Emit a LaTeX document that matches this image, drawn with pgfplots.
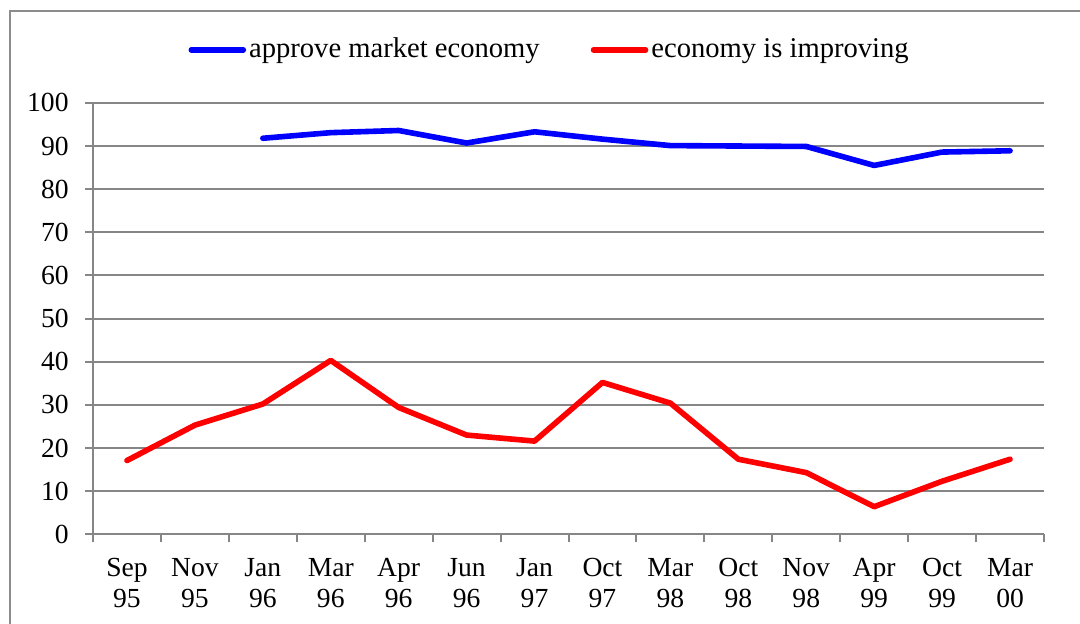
\documentclass[border=0pt]{standalone}
\usepackage{fontspec}
\setmainfont{Liberation Serif}
\usepackage{pgfplots}
\pgfplotsset{compat=1.18}
\definecolor{gridgray}{RGB}{134,134,134}
\definecolor{frameg}{RGB}{140,140,140}
\begin{document}
\fontsize{13.5}{15.5}\selectfont
\begin{tikzpicture}
\useasboundingbox (0,0) rectangle (540pt,312pt);
\clip (0,0) rectangle (540pt,312pt);
\draw[frameg, line width=1pt] (4.75pt,-10pt) -- (4.75pt,306.5pt) -- (550pt,306.5pt);
\begin{axis}[
  scale only axis,
  width=475.5pt, height=215.7pt,
  at={(46.5pt,44.85pt)}, anchor=south west,
  xmin=-0.5, xmax=13.5, ymin=0, ymax=100,
  axis x line*=bottom, axis y line*=left,
  axis line style={gridgray, line width=1pt, -},
  ytick={0,10,...,100},
  xtick={-0.5,0.5,...,13.5},
  x tick label as interval,
  xticklabels={{Sep\\95},{Nov\\95},{Jan\\96},{Mar\\96},{Apr\\96},{Jun\\96},{Jan\\97},{Oct\\97},{Mar\\98},{Oct\\98},{Nov\\98},{Apr\\99},{Oct\\99},{Mar\\00}},
  xticklabel style={align=center, font=\fontsize{13.8}{15.5}\selectfont, yshift=-3.5pt},
  yticklabel style={font=\fontsize{13.8}{15.5}\selectfont, xshift=-3.5pt},
  /pgf/number format/assume math mode=true,
  tick align=outside,
  major tick length=4pt,
  tick style={gridgray, line width=1pt},
  ymajorgrids,
  grid style={gridgray, line width=1pt},
  legend columns=2,
  legend style={draw=none, fill=none, at={(0.100,1.123)}, anchor=west, inner sep=0pt,
    font=\fontsize{14.3}{16}\selectfont,
    nodes={inner sep=1.5pt},
    /tikz/every even column/.append style={column sep=24pt}},
  legend image code/.code={\draw[#1, line cap=round] (0pt,0pt) -- (26pt,0pt);},
]
\addplot[blue, line width=2.8pt, line join=round, line cap=round] coordinates {
(2,91.8) (3,93.1) (4,93.6) (5,90.7) (6,93.3) (7,91.6) (8,90.1) (9,90.0) (10,89.9) (11,85.5) (12,88.6) (13,88.9)};
\addlegendentry{approve market economy}
\addplot[red, line width=2.8pt, line join=round, line cap=round] coordinates {
(0,17.1) (1,25.3) (2,30.2) (3,40.3) (4,29.4) (5,23.0) (6,21.6) (7,35.2) (8,30.4) (9,17.4) (10,14.3) (11,6.4) (12,12.3) (13,17.4)};
\addlegendentry{economy is improving}
\end{axis}
\end{tikzpicture}
\end{document}
